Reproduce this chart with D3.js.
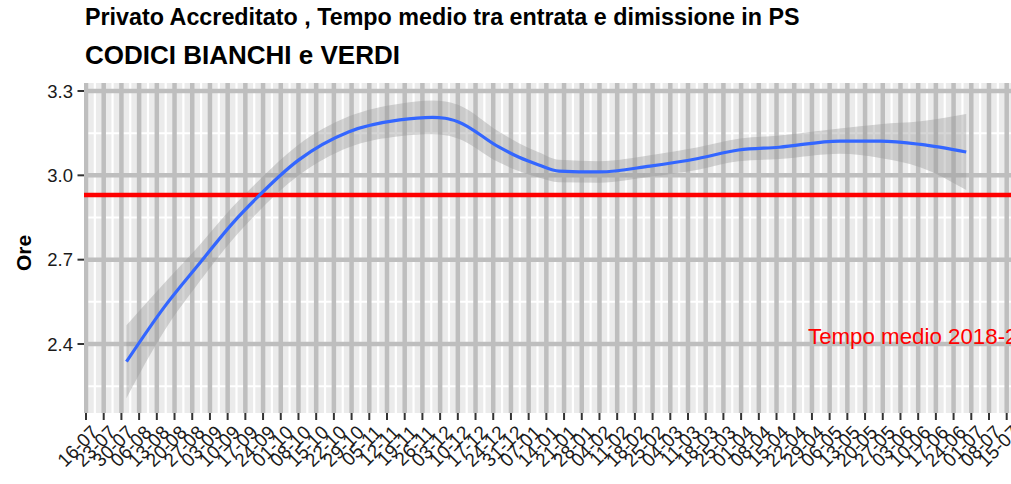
<!DOCTYPE html>
<html>
<head>
<meta charset="utf-8">
<script src="https://cdn.jsdelivr.net/npm/d3@7/dist/d3.min.js"></script>
<style>
  html, body { margin: 0; padding: 0; background: #ffffff; }
  svg { display: block; }
  text { font-family: "Liberation Sans", Arial, sans-serif; }
</style>
</head>
<body>
<svg id="chart" width="1011" height="484"></svg>
<script>
// Weekly axis breaks (Mondays)
const tickDates = [
  "2018-07-16","2018-07-23","2018-07-30","2018-08-06","2018-08-13","2018-08-20","2018-08-27",
  "2018-09-03","2018-09-10","2018-09-17","2018-09-24","2018-10-01","2018-10-08","2018-10-15",
  "2018-10-22","2018-10-29","2018-11-05","2018-11-12","2018-11-19","2018-11-26","2018-12-03",
  "2018-12-10","2018-12-17","2018-12-24","2018-12-31","2019-01-07","2019-01-14","2019-01-21",
  "2019-01-28","2019-02-04","2019-02-11","2019-02-18","2019-02-25","2019-03-04","2019-03-11",
  "2019-03-18","2019-03-25","2019-04-01","2019-04-08","2019-04-15","2019-04-22","2019-04-29",
  "2019-05-06","2019-05-13","2019-05-20","2019-05-27","2019-06-03","2019-06-10","2019-06-17",
  "2019-06-24","2019-07-01","2019-07-08","2019-07-15"
];
const yTicks = [2.4, 2.7, 3.0, 3.3];
const yMinor = [2.25, 2.55, 2.85, 3.15];

// Smoothed average time (hours) and half-width of its confidence band
const smoothDates = [
  "2018-08-01","2018-08-16","2018-08-30","2018-09-12","2018-09-21","2018-10-08","2018-10-28",
  "2018-11-17","2018-11-30","2018-12-05","2018-12-10","2018-12-26","2019-01-03","2019-01-11",
  "2019-01-19","2019-02-04","2019-02-24","2019-03-15","2019-03-31","2019-04-16","2019-05-10",
  "2019-05-26","2019-06-11","2019-06-29"
];
const smoothHours = [
  2.337, 2.532, 2.688, 2.830, 2.915, 3.054, 3.155,
  3.197, 3.206, 3.203, 3.191, 3.102, 3.065, 3.037,
  3.015, 3.012, 3.033, 3.060, 3.090, 3.100, 3.122,
  3.122, 3.110, 3.083
];
const bandHalf = [
  0.130, 0.085, 0.065, 0.058, 0.055, 0.055, 0.055,
  0.058, 0.060, 0.060, 0.060, 0.055, 0.050, 0.045,
  0.040, 0.038, 0.038, 0.040, 0.040, 0.042, 0.045,
  0.060, 0.082, 0.135
];

// Overall mean reference
const meanHours = 2.93;
const meanLabel = "Tempo medio 2018-2019";

const titleLine1 = "Privato Accreditato , Tempo medio tra entrata e dimissione in PS";
const titleLine2 = "CODICI BIANCHI e VERDI";
const yTitle = "Ore";

const parse = d3.utcParse("%Y-%m-%d");
const fmt = d3.utcFormat("%d-%m");

const panel = { left: 84, right: 1011, top: 83, bottom: 413 };

const svg = d3.select("#chart");

const ticks = tickDates.map(parse);
const x = d3.scaleUtc()
  .domain([ticks[0], ticks[ticks.length - 1]])
  .range([86, 1006.7]);
const y = d3.scaleLinear().domain([2.4, 3.3]).range([344, 91]);

const series = smoothDates.map((d, i) => ({
  date: parse(d), v: smoothHours[i], lo: smoothHours[i] - bandHalf[i], hi: smoothHours[i] + bandHalf[i]
}));

// Panel background
svg.append("rect")
  .attr("x", panel.left).attr("y", panel.top)
  .attr("width", panel.right - panel.left).attr("height", panel.bottom - panel.top)
  .attr("fill", "#ebebeb");

svg.append("clipPath").attr("id", "pclip")
  .append("rect")
  .attr("x", panel.left).attr("y", panel.top)
  .attr("width", panel.right - panel.left).attr("height", panel.bottom - panel.top);

const g = svg.append("g").attr("clip-path", "url(#pclip)");

// Minor grid (mid-week and half steps)
const minorX = [];
for (let i = -1; i < ticks.length; i++) {
  minorX.push(new Date(ticks[0].getTime() + (i * 7 + 3.5) * 864e5));
}
g.selectAll("line.minx").data(minorX).join("line")
  .attr("x1", d => x(d)).attr("x2", d => x(d))
  .attr("y1", panel.top).attr("y2", panel.bottom)
  .attr("stroke", "#ffffff").attr("stroke-width", 2.2);
g.selectAll("line.miny").data(yMinor).join("line")
  .attr("x1", panel.left).attr("x2", panel.right)
  .attr("y1", d => y(d)).attr("y2", d => y(d))
  .attr("stroke", "#ffffff").attr("stroke-width", 2);

// Major grid
g.selectAll("line.majx").data(ticks).join("line")
  .attr("x1", d => x(d)).attr("x2", d => x(d))
  .attr("y1", panel.top).attr("y2", panel.bottom)
  .attr("stroke", "#bebebe").attr("stroke-width", 4.5);
g.selectAll("line.majy").data(yTicks).join("line")
  .attr("x1", panel.left).attr("x2", panel.right)
  .attr("y1", d => y(d)).attr("y2", d => y(d))
  .attr("stroke", "#bebebe").attr("stroke-width", 4.5);

// Confidence band
g.append("path")
  .datum(series)
  .attr("d", d3.area().curve(d3.curveMonotoneX)
    .x(d => x(d.date)).y0(d => y(d.lo)).y1(d => y(d.hi)))
  .attr("fill", "#999999").attr("fill-opacity", 0.4);

// Mean reference line
g.append("line")
  .attr("x1", panel.left).attr("x2", panel.right)
  .attr("y1", y(meanHours)).attr("y2", y(meanHours))
  .attr("stroke", "#ff0000").attr("stroke-width", 4.5);

// Smoothed line
g.append("path")
  .datum(series)
  .attr("d", d3.line().curve(d3.curveMonotoneX).x(d => x(d.date)).y(d => y(d.v)))
  .attr("fill", "none").attr("stroke", "#3366ff").attr("stroke-width", 3.2)
  .attr("stroke-linecap", "butt");

// Mean label
svg.append("text")
  .attr("x", 808).attr("y", y(2.4))
  .attr("fill", "#ff0000").attr("font-size", 22.3)
  .text(meanLabel);

// Y axis
const yAxis = svg.append("g");
yAxis.selectAll("line").data(yTicks).join("line")
  .attr("x1", 77.5).attr("x2", panel.left)
  .attr("y1", d => y(d)).attr("y2", d => y(d))
  .attr("stroke", "#333333").attr("stroke-width", 2);
yAxis.selectAll("text").data(yTicks).join("text")
  .attr("x", 73).attr("y", d => y(d)).attr("dy", "0.36em")
  .attr("text-anchor", "end").attr("font-size", 18.5).attr("fill", "#1a1a1a")
  .text(d => d.toFixed(1));

// X axis
const xAxis = svg.append("g");
xAxis.selectAll("line").data(ticks).join("line")
  .attr("x1", d => x(d)).attr("x2", d => x(d))
  .attr("y1", panel.bottom).attr("y2", panel.bottom + 7)
  .attr("stroke", "#333333").attr("stroke-width", 2);
xAxis.selectAll("text").data(ticks).join("text")
  .attr("transform", d => `translate(${x(d) + 4},${panel.bottom + 11}) rotate(-45)`)
  .attr("dy", "0.71em")
  .attr("text-anchor", "end").attr("font-size", 19).attr("fill", "#1a1a1a")
  .text(d => fmt(d));

// Axis title
svg.append("text")
  .attr("transform", `translate(31,${(panel.top + panel.bottom) / 2 + 5}) rotate(-90)`)
  .attr("text-anchor", "middle").attr("font-size", 21).attr("font-weight", "bold")
  .text(yTitle);

// Titles
svg.append("text").attr("x", 85).attr("y", 25)
  .attr("font-size", 23.3).attr("font-weight", "bold").text(titleLine1);
svg.append("text").attr("x", 85).attr("y", 64)
  .attr("font-size", 26).attr("font-weight", "bold").text(titleLine2);
</script>
</body>
</html>
